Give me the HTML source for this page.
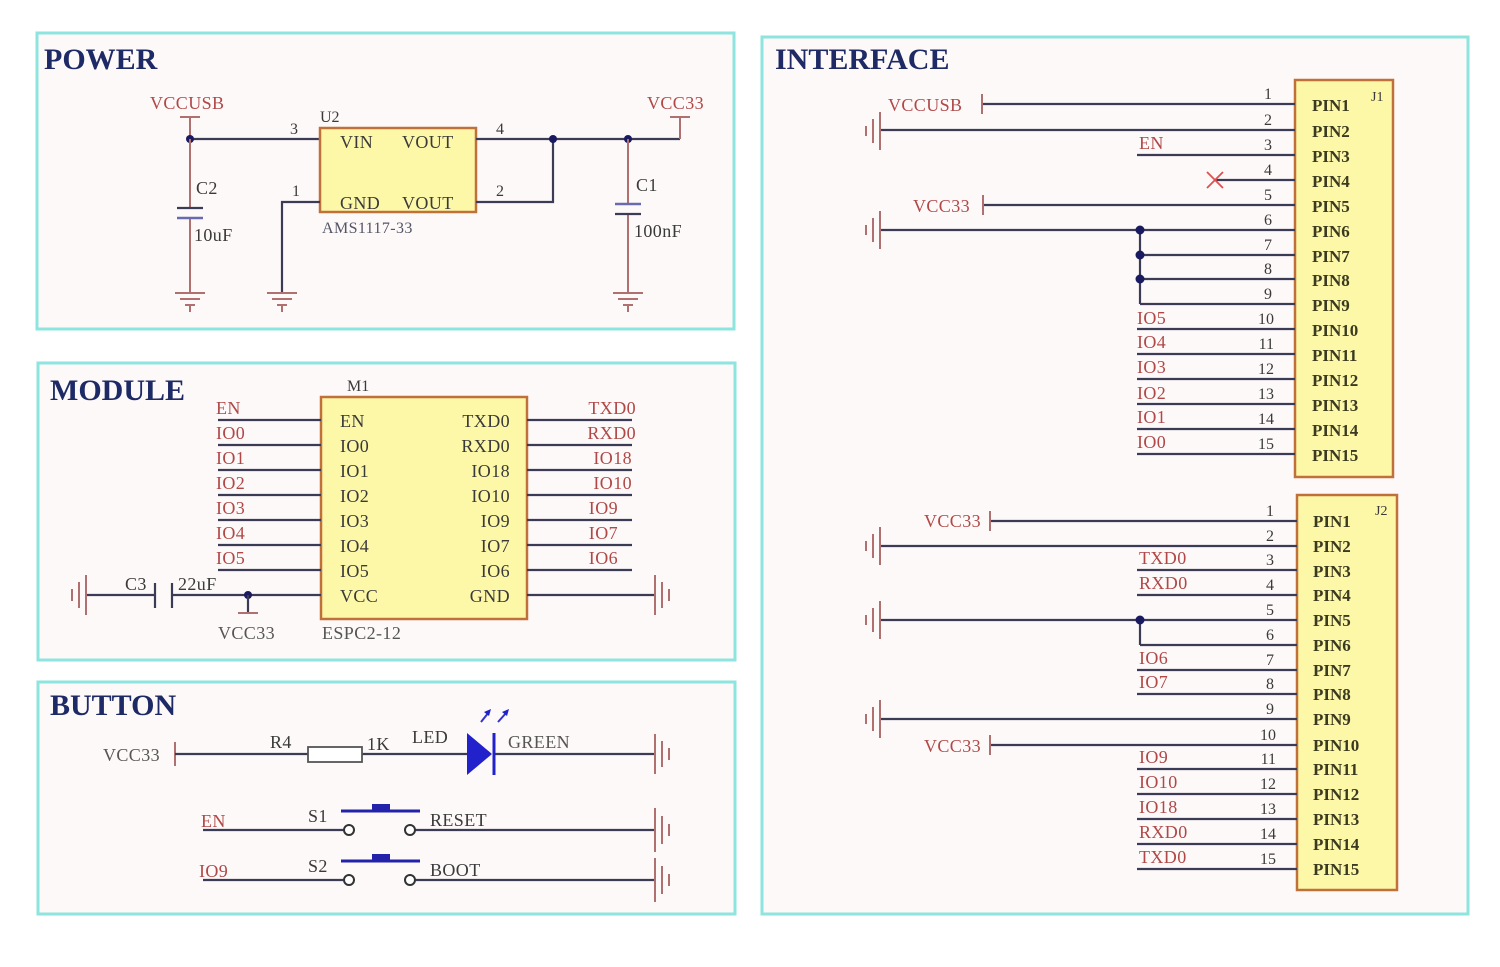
<!DOCTYPE html>
<html><head><meta charset="utf-8"><style>
html,body{margin:0;padding:0;background:#fff;}
svg{display:block;font-family:"Liberation Serif",serif;}
.w{stroke:#3b3b55;stroke-width:2.2;fill:none;}
.r{stroke:#b07070;stroke-width:2;fill:none;}
.lab{fill:#b04848;font-size:18px;letter-spacing:0.4px;}
.blk{fill:#3a3a3a;font-size:18px;letter-spacing:0.4px;}
.pn{fill:#3a3a3a;font-size:16px;}
.pin{fill:#3a3a20;font-size:17px;font-weight:bold;}
.ttl{fill:#1e2a66;font-size:30px;font-weight:bold;}
.box{fill:#fdf7a8;stroke:#c0703a;stroke-width:2.5;}
.panel{fill:#fdf9f8;stroke:#8ee4de;stroke-width:3;}
.dot{fill:#1a1a60;}
</style></head><body>
<svg width="1500" height="967" viewBox="0 0 1500 967">
<rect class="panel" x="37" y="33" width="697" height="296"/>
<rect class="panel" x="38" y="363" width="697" height="297"/>
<rect class="panel" x="38" y="682" width="697" height="232"/>
<rect class="panel" x="762" y="37" width="706" height="877"/>

<!-- ===== POWER ===== -->
<text class="ttl" x="44" y="69">POWER</text>
<text class="lab" x="150" y="109">VCCUSB</text>
<path class="r" d="M180 117H200M190 117V139"/>
<path class="w" d="M190 139H320"/>
<circle class="dot" cx="190" cy="139" r="4"/>
<text class="pn" x="290" y="134">3</text>
<rect class="box" x="320" y="128" width="156" height="84"/>
<text class="pn" x="320" y="122" fill="#333">U2</text>
<text class="blk" x="340" y="148">VIN</text>
<text class="blk" x="402" y="148">VOUT</text>
<text class="blk" x="340" y="209">GND</text>
<text class="blk" x="402" y="209">VOUT</text>
<text x="322" y="233" style="fill:#556;font-size:16px;letter-spacing:0.4px">AMS1117-33</text>
<path class="w" d="M476 139H680M476 202H553V139"/>
<text class="pn" x="496" y="134">4</text>
<text class="pn" x="496" y="196">2</text>
<circle class="dot" cx="553" cy="139" r="4"/>
<circle class="dot" cx="628" cy="139" r="4"/>
<path class="r" d="M680 139V117M670 117H690"/>
<text class="lab" x="647" y="109">VCC33</text>
<path class="w" d="M320 202H282V293"/>
<text class="pn" x="292" y="196">1</text>
<path class="r" d="M190 139V208M190 218V293"/>
<path class="w" d="M177 208H203"/><path d="M177 218H203" stroke="#6a6ab0" stroke-width="2.5"/>
<text class="blk" x="196" y="194">C2</text>
<text class="blk" x="194" y="241">10uF</text>
<path class="r" d="M628 139V204M628 214V293"/>
<path d="M615 204H641" stroke="#6a6ab0" stroke-width="2.5"/><path class="w" d="M615 214H641"/>
<text class="blk" x="636" y="191">C1</text>
<text class="blk" x="634" y="237">100nF</text>
<g class="r">
<path d="M175 293H205M180 299H200M185 305H195M190 305V312"/>
<path d="M267 293H297M272 299H292M277 305H287M282 305V312"/>
<path d="M613 293H643M618 299H638M623 305H633M628 305V312"/>
</g>

<!-- ===== MODULE ===== -->
<text class="ttl" x="50" y="400">MODULE</text>
<text class="pn" x="347" y="391">M1</text>
<rect class="box" x="321" y="397" width="206" height="222"/>
<g class="w">
<path d="M218 420H321M218 445H321M218 470H321M218 495H321M218 520H321M218 545H321M218 570H321"/>
<path d="M527 420H632M527 445H632M527 470H632M527 495H632M527 520H632M527 545H632M527 570H632"/>
<path d="M85 595H155M172 595H321M527 595H655"/>
<path d="M155 583V608M172 583V608"/>
</g>
<g class="lab">
<text x="216" y="414">EN</text><text x="216" y="439">IO0</text><text x="216" y="464">IO1</text>
<text x="216" y="489">IO2</text><text x="216" y="514">IO3</text><text x="216" y="539">IO4</text><text x="216" y="564">IO5</text>
</g>
<g class="lab" text-anchor="end">
<text x="636" y="414">TXD0</text><text x="636" y="439">RXD0</text><text x="632" y="464">IO18</text>
<text x="632" y="489">IO10</text><text x="618" y="514">IO9</text><text x="618" y="539">IO7</text><text x="618" y="564">IO6</text>
</g>
<g class="blk">
<text x="340" y="427">EN</text><text x="340" y="452">IO0</text><text x="340" y="477">IO1</text>
<text x="340" y="502">IO2</text><text x="340" y="527">IO3</text><text x="340" y="552">IO4</text>
<text x="340" y="577">IO5</text><text x="340" y="602">VCC</text>
</g>
<g class="blk" text-anchor="end">
<text x="510" y="427">TXD0</text><text x="510" y="452">RXD0</text><text x="510" y="477">IO18</text>
<text x="510" y="502">IO10</text><text x="510" y="527">IO9</text><text x="510" y="552">IO7</text>
<text x="510" y="577">IO6</text><text x="510" y="602">GND</text>
</g>
<text class="blk" x="125" y="590">C3</text>
<text class="blk" x="178" y="590">22uF</text>
<circle class="dot" cx="248" cy="595" r="4"/>
<path class="w" d="M248 595V613"/><path class="r" d="M238 613H258"/>
<text class="blk" x="218" y="639" style="fill:#555">VCC33</text>
<text class="blk" x="322" y="639" style="fill:#555">ESPC2-12</text>
<g class="r">
<path d="M86 575V615M79 582V608M72 589V601"/>
<path d="M655 575V615M662 582V608M669 589V601"/>
</g>

<!-- ===== BUTTON ===== -->
<text class="ttl" x="50" y="715">BUTTON</text>
<text class="blk" x="103" y="761" style="fill:#555">VCC33</text>
<path class="r" d="M175 742V766"/>
<path class="w" d="M175 754H308M362 754H467M493 754H655"/>
<rect x="308" y="747" width="54" height="15" fill="#fff" stroke="#555" stroke-width="1.8"/>
<text class="blk" x="270" y="748">R4</text>
<text class="blk" x="367" y="750">1K</text>
<text class="blk" x="412" y="743">LED</text>
<text class="blk" x="508" y="748" style="fill:#555">GREEN</text>
<polygon points="467,733 467,775 492,754" fill="#2222cc"/>
<path d="M494 733V775" stroke="#2222cc" stroke-width="3"/>
<path d="M481 722L489 712M498 722L507 712" stroke="#3333cc" stroke-width="2"/>
<polygon points="491,709 484,712 489,716" fill="#2222cc"/>
<polygon points="509,709 502,712 507,716" fill="#2222cc"/>
<text class="lab" x="201" y="827">EN</text>
<path class="w" d="M203 830H344M415 830H655"/>
<circle cx="349" cy="830" r="5" fill="#fff" stroke="#333" stroke-width="2"/>
<circle cx="410" cy="830" r="5" fill="#fff" stroke="#333" stroke-width="2"/>
<path d="M341 811H420" stroke="#2222aa" stroke-width="3"/>
<rect x="372" y="804" width="18" height="7" fill="#2222aa"/>
<text class="blk" x="308" y="822">S1</text>
<text class="blk" x="430" y="826">RESET</text>
<text class="lab" x="199" y="877">IO9</text>
<path class="w" d="M203 880H344M415 880H655"/>
<circle cx="349" cy="880" r="5" fill="#fff" stroke="#333" stroke-width="2"/>
<circle cx="410" cy="880" r="5" fill="#fff" stroke="#333" stroke-width="2"/>
<path d="M341 861H420" stroke="#2222aa" stroke-width="3"/>
<rect x="372" y="854" width="18" height="7" fill="#2222aa"/>
<text class="blk" x="308" y="872">S2</text>
<text class="blk" x="430" y="876">BOOT</text>
<g class="r">
<path d="M655 734V774M662 741V767M669 748V760"/>
<path d="M655 808V852M662 816V844M669 824V836"/>
<path d="M655 858V902M662 866V894M669 874V886"/>
</g>

<!-- ===== INTERFACE ===== -->
<text class="ttl" x="775" y="69">INTERFACE</text>
<rect class="box" x="1295" y="80" width="98" height="397"/>
<text class="pn" x="1371" y="101" style="font-size:14px">J1</text>
<g class="w">
<path d="M982 104H1295M880 130H1295M1137 155H1295M1215 180H1295M983 205H1295M880 230H1295"/>
<path d="M1140 255H1295M1140 279H1295M1140 304H1295M1140 230V304"/>
<path d="M1137 329H1295M1137 354H1295M1137 379H1295M1137 404H1295M1137 429H1295M1137 454H1295"/>
</g>
<path class="r" d="M982 94V114M983 195V215"/>
<path d="M1207 172L1223 188M1223 172L1207 188" stroke="#e05050" stroke-width="1.8"/>
<circle class="dot" cx="1140" cy="230" r="4.5"/><circle class="dot" cx="1140" cy="255" r="4.5"/><circle class="dot" cx="1140" cy="279" r="4.5"/>
<g class="r">
<path d="M880 112V150M873 119V143M866 126V136"/>
<path d="M880 211V249M873 218V242M866 225V235"/>
</g>
<text class="lab" x="888" y="111">VCCUSB</text>
<text class="lab" x="913" y="212">VCC33</text>
<g class="lab">
<text x="1139" y="149">EN</text>
<text x="1137" y="324">IO5</text><text x="1137" y="348">IO4</text><text x="1137" y="373">IO3</text>
<text x="1137" y="399">IO2</text><text x="1137" y="423">IO1</text><text x="1137" y="448">IO0</text>
</g>
<g class="pn" text-anchor="end">
<text x="1272" y="99">1</text><text x="1272" y="125">2</text><text x="1272" y="150">3</text><text x="1272" y="175">4</text>
<text x="1272" y="200">5</text><text x="1272" y="225">6</text><text x="1272" y="250">7</text><text x="1272" y="274">8</text>
<text x="1272" y="299">9</text><text x="1274" y="324">10</text><text x="1274" y="349">11</text><text x="1274" y="374">12</text>
<text x="1274" y="399">13</text><text x="1274" y="424">14</text><text x="1274" y="449">15</text>
</g>
<g class="pin">
<text x="1312" y="111">PIN1</text><text x="1312" y="137">PIN2</text><text x="1312" y="162">PIN3</text>
<text x="1312" y="187">PIN4</text><text x="1312" y="212">PIN5</text><text x="1312" y="237">PIN6</text>
<text x="1312" y="262">PIN7</text><text x="1312" y="286">PIN8</text><text x="1312" y="311">PIN9</text>
<text x="1312" y="336">PIN10</text><text x="1312" y="361">PIN11</text><text x="1312" y="386">PIN12</text>
<text x="1312" y="411">PIN13</text><text x="1312" y="436">PIN14</text><text x="1312" y="461">PIN15</text>
</g>
<rect class="box" x="1297" y="495" width="100" height="395"/>
<text class="pn" x="1375" y="515" style="font-size:14px">J2</text>
<g class="w">
<path d="M990 521H1297M880 546H1297M1137 570H1297M1137 595H1297M880 620H1297M1140 645H1297M1140 620V645"/>
<path d="M1137 670H1297M1137 694H1297M880 719H1297M990 745H1297"/>
<path d="M1137 769H1297M1137 794H1297M1137 819H1297M1137 844H1297M1137 869H1297"/>
</g>
<path class="r" d="M990 511V531M990 735V755"/>
<circle class="dot" cx="1140" cy="620" r="4.5"/>
<g class="r">
<path d="M880 527V565M873 534V558M866 541V551"/>
<path d="M880 601V639M873 608V632M866 615V625"/>
<path d="M880 700V738M873 707V731M866 714V724"/>
</g>
<text class="lab" x="924" y="527">VCC33</text>
<text class="lab" x="924" y="752">VCC33</text>
<g class="lab">
<text x="1139" y="564">TXD0</text><text x="1139" y="589">RXD0</text>
<text x="1139" y="664">IO6</text><text x="1139" y="688">IO7</text>
<text x="1139" y="763">IO9</text><text x="1139" y="788">IO10</text><text x="1139" y="813">IO18</text>
<text x="1139" y="838">RXD0</text><text x="1139" y="863">TXD0</text>
</g>
<g class="pn" text-anchor="end">
<text x="1274" y="516">1</text><text x="1274" y="541">2</text><text x="1274" y="565">3</text><text x="1274" y="590">4</text>
<text x="1274" y="615">5</text><text x="1274" y="640">6</text><text x="1274" y="665">7</text><text x="1274" y="689">8</text>
<text x="1274" y="714">9</text><text x="1276" y="740">10</text><text x="1276" y="764">11</text><text x="1276" y="789">12</text>
<text x="1276" y="814">13</text><text x="1276" y="839">14</text><text x="1276" y="864">15</text>
</g>
<g class="pin">
<text x="1313" y="527">PIN1</text><text x="1313" y="552">PIN2</text><text x="1313" y="577">PIN3</text>
<text x="1313" y="601">PIN4</text><text x="1313" y="626">PIN5</text><text x="1313" y="651">PIN6</text>
<text x="1313" y="676">PIN7</text><text x="1313" y="700">PIN8</text><text x="1313" y="725">PIN9</text>
<text x="1313" y="751">PIN10</text><text x="1313" y="775">PIN11</text><text x="1313" y="800">PIN12</text>
<text x="1313" y="825">PIN13</text><text x="1313" y="850">PIN14</text><text x="1313" y="875">PIN15</text>
</g>
</svg>
</body></html>
